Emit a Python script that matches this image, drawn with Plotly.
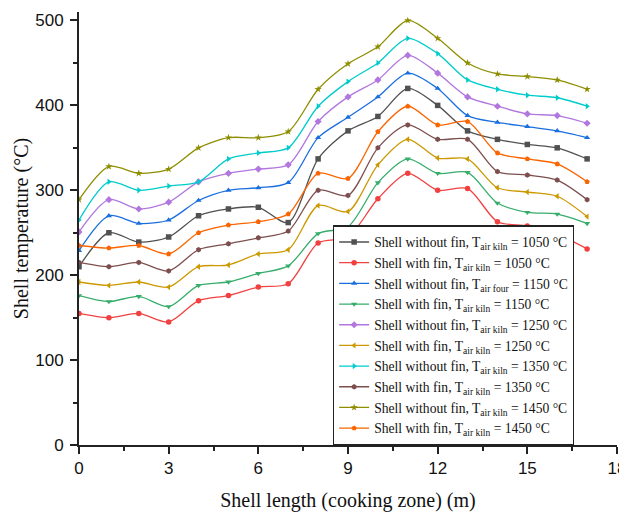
import plotly.graph_objects as go

x_len = list(range(18))

without_1050 = [210, 250, 239, 245, 270, 278, 280, 262, 337, 370, 387, 420, 400, 370, 360, 354, 350, 337]
with_1050 = [155, 150, 155, 145, 170, 176, 186, 190, 238, 245, 290, 320, 300, 302, 263, 258, 248, 231]
without_1150 = [229, 270, 261, 265, 288, 300, 303, 309, 362, 386, 410, 438, 420, 388, 380, 375, 370, 362]
with_1150 = [176, 169, 175, 163, 188, 192, 202, 211, 249, 257, 309, 337, 320, 321, 285, 274, 272, 261]
without_1250 = [251, 289, 278, 286, 310, 320, 325, 330, 381, 410, 430, 459, 438, 410, 399, 390, 388, 379]
with_1250 = [192, 188, 192, 186, 210, 212, 225, 230, 282, 275, 330, 360, 338, 337, 303, 298, 293, 269]
without_1350 = [265, 310, 300, 305, 310, 337, 344, 350, 399, 428, 450, 479, 461, 430, 419, 412, 409, 399]
with_1350 = [215, 210, 215, 205, 230, 237, 244, 252, 300, 294, 350, 377, 360, 360, 322, 318, 312, 289]
without_1450 = [289, 328, 320, 325, 350, 362, 362, 369, 419, 449, 469, 500, 479, 450, 437, 434, 430, 419]
with_1450 = [235, 232, 235, 225, 250, 259, 263, 272, 320, 314, 369, 399, 377, 381, 344, 337, 331, 310]

names = [
    "Shell without fin, T<sub>air kiln</sub> = 1050 °C",
    "Shell with fin, T<sub>air kiln</sub> = 1050 °C",
    "Shell without fin, T<sub>air four</sub> = 1150 °C",
    "Shell with fin, T<sub>air kiln</sub> = 1150 °C",
    "Shell without fin, T<sub>air kiln</sub> = 1250 °C",
    "Shell with fin, T<sub>air kiln</sub> = 1250 °C",
    "Shell without fin, T<sub>air kiln</sub> = 1350 °C",
    "Shell with fin, T<sub>air kiln</sub> = 1350 °C",
    "Shell without fin, T<sub>air kiln</sub> = 1450 °C",
    "Shell with fin, T<sub>air kiln</sub> = 1450 °C",
]
series = [without_1050, with_1050, without_1150, with_1150, without_1250,
          with_1250, without_1350, with_1350, without_1450, with_1450]
colors = ["#515151", "#F14040", "#1A6FDF", "#37AD6B", "#B177DE",
          "#CC9900", "#00CBCC", "#7D4E4E", "#8E8E00", "#FB6501"]
symbols = ["square", "circle", "triangle-up", "triangle-down", "diamond",
           "triangle-left", "triangle-right", "hexagon", "star", "pentagon"]

fig = go.Figure()
for nm, ys, c, s in zip(names, series, colors, symbols):
    fig.add_trace(go.Scatter(
        x=x_len, y=ys, name=nm, mode="lines+markers",
        line=dict(color=c, width=1.3, shape="spline", smoothing=0.8),
        marker=dict(color=c, symbol=s, size=5.5, line=dict(width=0)),
    ))

axis_common = dict(
    showline=True, linecolor="#222", linewidth=2, mirror=False,
    ticks="outside", ticklen=7, tickwidth=1.5, tickcolor="#222",
    showgrid=False, zeroline=False, automargin=False,
    tickfont=dict(family="Liberation Sans, Arial", size=17, color="#111"),
    minor=dict(ticks="outside", ticklen=4, tickwidth=1.5, tickcolor="#222", showgrid=False),
)

# page body has an 8 px default margin, so the figure is sized/offset to compensate
fig.update_layout(
    width=619, height=506,
    margin=dict(l=71, r=10, t=4, b=69),
    paper_bgcolor="white", plot_bgcolor="white",
    showlegend=True,
    legend=dict(
        x=0.472, y=0.507, xanchor="left", yanchor="top",
        bgcolor="white", bordercolor="#222", borderwidth=1.2,
        font=dict(family="Liberation Serif, Times New Roman", size=13.6, color="#111"),
        tracegroupgap=0, itemwidth=30,
    ),
    xaxis=dict(
        range=[0, 18], tickvals=[0, 3, 6, 9, 12, 15, 18],
        ticklabelstandoff=0,
        title=dict(text="Shell length (cooking zone) (m)",
                   font=dict(family="Liberation Serif, Times New Roman", size=20, color="#111"),
                   standoff=16),
        **axis_common,
    ),
    yaxis=dict(
        range=[0, 510], tickvals=[0, 100, 200, 300, 400, 500],
        ticklabelstandoff=3,
        title=dict(text="Shell temperature (°C)",
                   font=dict(family="Liberation Serif, Times New Roman", size=20, color="#111"),
                   standoff=1),
        **axis_common,
    ),
)
fig.update_xaxes(minor=dict(tickvals=[1.5, 4.5, 7.5, 10.5, 13.5, 16.5]))
fig.update_yaxes(minor=dict(tickvals=[50, 150, 250, 350, 450]))

fig.write_html("out.html")
